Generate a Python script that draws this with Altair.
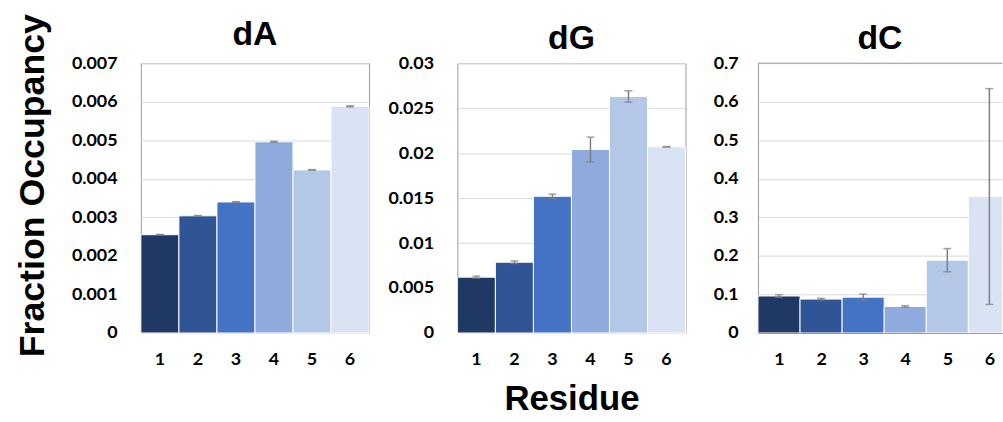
import altair as alt
import pandas as pd

residues = [1, 2, 3, 4, 5, 6]
bar_colors = ["#203864", "#2F5597", "#4472C4", "#8FAADC", "#B4C7E7", "#DAE3F3"]

dA_mean = [0.00255, 0.00304, 0.00340, 0.00496, 0.00423, 0.00588]
dA_err = [0.000004, 0.000008, 0.000008, 0.000015, 0.000008, 0.000015]
dA_ticks = [0, 0.001, 0.002, 0.003, 0.004, 0.005, 0.006, 0.007]

dG_mean = [0.00621, 0.00787, 0.0152, 0.0204, 0.0263, 0.0207]
dG_err = [0.00012, 0.00015, 0.00024, 0.00138, 0.00063, 0.00003]
dG_ticks = [0, 0.005, 0.01, 0.015, 0.02, 0.025, 0.03]

dC_mean = [0.096, 0.088, 0.093, 0.069, 0.189, 0.354]
dC_err = [0.0035, 0.002, 0.008, 0.002, 0.030, 0.280]
dC_ticks = [0, 0.1, 0.2, 0.3, 0.4, 0.5, 0.6, 0.7]

FRAME = "#999999"
GRID = "#d9d9d9"
ERR = "#7f7f7f"
LABEL_FONT = "Lato"
TITLE_FONT = "Liberation Sans"


def make_df(mean, err):
    return pd.DataFrame({
        "residue": residues,
        "mean": mean,
        "lo": [m - e for m, e in zip(mean, err)],
        "hi": [m + e for m, e in zip(mean, err)],
        "zero": [0.0] * len(residues),
        "x0": [r - 0.5 for r in residues],
        "x1": [r + 0.5 for r in residues],
    })


color_enc = alt.Color("residue:N", scale=alt.Scale(domain=residues, range=bar_colors), legend=None)


def yaxis(ticks, title=None, extent=71, pad=24, domain=False):
    kw = dict(values=ticks, format="~g", grid=True, gridColor=GRID, gridWidth=1,
              ticks=False, domain=domain, domainColor=FRAME, domainWidth=1,
              labelFont=LABEL_FONT, labelFontSize=18, labelFontWeight="bold",
              labelColor="black", labelPadding=pad, minExtent=extent, maxExtent=extent)
    if title:
        kw.update(title=title, titleFont=TITLE_FONT, titleFontSize=36, titleFontWeight="bold",
                  titleColor="black", titlePadding=19, titleY=123)
    else:
        kw.update(title=None)
    return alt.Axis(**kw)


def xaxis(title=None, domain=False, quant=False):
    kw = dict(labelAngle=0, ticks=False, grid=False, domain=domain, domainColor=FRAME, domainWidth=1,
              labelFont=LABEL_FONT, labelFontSize=18, labelFontWeight="bold",
              labelColor="black", labelPadding=18)
    if quant:
        kw.update(values=residues, format="d")
    if title:
        kw.update(title=title, titleFont=TITLE_FONT, titleFontSize=35, titleFontWeight="bold",
                  titleColor="black", titlePadding=13)
    else:
        kw.update(title=None)
    return alt.Axis(**kw)


def title_params(text, offset=-2):
    return alt.TitleParams(text, font=TITLE_FONT, fontSize=34, fontWeight="bold",
                           color="black", offset=offset, frame="group")


def layers(df, xsc, xax, ysc, yax, quant=False):
    base = alt.Chart(df)
    if quant:
        bars = base.mark_rect(stroke="white", strokeWidth=1, clip=True).encode(
            x=alt.X("x0:Q", scale=xsc, axis=xax), x2="x1:Q",
            y=alt.Y("mean:Q", scale=ysc, axis=yax), y2="zero:Q",
            color=color_enc)
        xe = alt.X("residue:Q", scale=xsc, axis=xax)
    else:
        bars = base.mark_bar(stroke="white", strokeWidth=1).encode(
            x=alt.X("residue:O", scale=xsc, axis=xax),
            y=alt.Y("mean:Q", scale=ysc, axis=yax),
            color=color_enc)
        xe = alt.X("residue:O", scale=xsc, axis=xax)
    rule = base.mark_rule(color=ERR, strokeWidth=1.5).encode(
        x=xe, y=alt.Y("lo:Q", scale=ysc, axis=yax), y2="hi:Q")
    cap_lo = base.mark_tick(color=ERR, thickness=1.5, size=8, orient="horizontal").encode(
        x=xe, y=alt.Y("lo:Q", scale=ysc, axis=yax))
    cap_hi = base.mark_tick(color=ERR, thickness=1.5, size=8, orient="horizontal").encode(
        x=xe, y=alt.Y("hi:Q", scale=ysc, axis=yax))
    return [bars, rule, cap_lo, cap_hi]


def band_panel(name, mean, err, ticks, ytitle=None, xtitle=None, toff=-2):
    df = make_df(mean, err)
    ysc = alt.Scale(domain=[ticks[0], ticks[-1]], nice=False)
    xsc = alt.Scale(paddingInner=0, paddingOuter=0)
    ls = layers(df, xsc, xaxis(xtitle), ysc, yaxis(ticks, ytitle))
    return alt.layer(*ls).properties(width=230, height=272, title=title_params(name, toff))


def quant_panel(name, mean, err, ticks):
    df = make_df(mean, err)
    ysc = alt.Scale(domain=[ticks[0], ticks[-1]], nice=False)
    xsc = alt.Scale(domain=[0.5, 6.3], nice=False, zero=False)
    yax = yaxis(ticks, None, extent=56, pad=20, domain=True)
    ls = layers(df, xsc, xaxis(None, domain=True, quant=True), ysc, yax, quant=True)
    top = alt.Chart(pd.DataFrame({"top": [ticks[-1]]})).mark_rule(color=FRAME, strokeWidth=1).encode(
        y=alt.Y("top:Q", scale=ysc, axis=yax))
    return alt.layer(*ls, top).properties(
        width=246, height=272, title=title_params(name),
        view=alt.ViewBackground(strokeOpacity=0))


pA = band_panel("dA", dA_mean, dA_err, dA_ticks, ytitle="Fraction Occupancy", toff=-39)
pG = band_panel("dG", dG_mean, dG_err, dG_ticks, xtitle="Residue")
pC = quant_panel("dC", dC_mean, dC_err, dC_ticks)

chart = alt.hconcat(pA, pG, pC, spacing=15).properties(
    padding={"left": 14, "top": 11, "right": 0, "bottom": 0},
    background="white",
).configure_view(stroke=FRAME, strokeWidth=1)

chart.save("out.html", embed_options={"renderer": "svg", "actions": False})
